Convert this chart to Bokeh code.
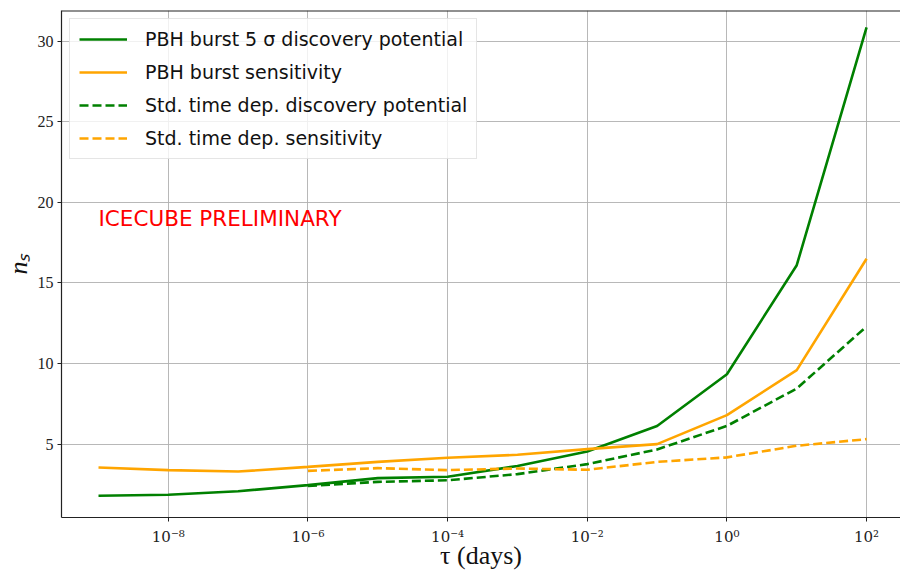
from bokeh.plotting import figure
from bokeh.models import (Range1d, FixedTicker, CustomJSTickFormatter, Label, Legend,
                          LegendItem, Span)
from bokeh.embed import file_html
from bokeh.resources import INLINE

# ---- data ----
tau_full = [1e-9, 1e-8, 1e-7, 1e-6, 1e-5, 1e-4, 1e-3, 1e-2, 1e-1, 1e0, 1e1, 1e2]
pbh_disc = [1.80, 1.86, 2.08, 2.46, 2.89, 2.98, 3.65, 4.54, 6.13, 9.34, 16.1, 30.85]
pbh_sens = [3.55, 3.39, 3.30, 3.59, 3.90, 4.16, 4.34, 4.69, 5.00, 6.80, 9.59, 16.5]

tau_std = [1e-6, 1e-5, 1e-4, 1e-3, 1e-2, 1e-1, 1e0, 1e1, 1e2]
std_disc = [2.41, 2.66, 2.76, 3.14, 3.76, 4.67, 6.13, 8.45, 12.3]
std_sens = [3.34, 3.51, 3.39, 3.49, 3.41, 3.90, 4.18, 4.90, 5.31]

x_ticks = [1e-8, 1e-6, 1e-4, 1e-2, 1e0, 1e2]
x_tick_labels = ["10⁻⁸", "10⁻⁶", "10⁻⁴", "10⁻²", "10⁰", "10²"]
y_ticks = [5, 10, 15, 20, 25, 30]

series_names = ["PBH burst 5 σ discovery potential", "PBH burst sensitivity",
                "Std. time dep. discovery potential", "Std. time dep. sensitivity"]

GREEN = "#008000"
ORANGE = "#ffa500"
SERIF = "Liberation Serif"
SANS = "DejaVu Sans"

p = figure(width=900, height=578, x_axis_type="log",
           x_range=Range1d(10 ** -9.53, 10 ** 2.486), y_range=Range1d(0.45, 31.9),
           output_backend="svg", toolbar_location=None,
           min_border_left=60, min_border_top=10, min_border_bottom=61, min_border_right=0)

p.outline_line_color = None
p.background_fill_color = "white"
p.border_fill_color = "white"

# grid
for g in (p.xgrid, p.ygrid):
    g.grid_line_color = "#b0b0b0"
    g.grid_line_width = 0.9
p.xgrid.ticker = FixedTicker(ticks=x_ticks, minor_ticks=[])
p.ygrid.ticker = FixedTicker(ticks=y_ticks, minor_ticks=[])

# axes
p.xaxis.ticker = FixedTicker(ticks=x_ticks, minor_ticks=[])
p.xaxis.formatter = CustomJSTickFormatter(args=dict(tk=x_ticks, lb=x_tick_labels), code="""
let best = 0, bd = 1e9;
for (let i = 0; i < tk.length; i++) {
  const d = Math.abs(Math.log10(tk[i]) - Math.log10(tick));
  if (d < bd) { bd = d; best = i; }
}
return lb[best];
""")
p.yaxis.ticker = FixedTicker(ticks=y_ticks, minor_ticks=[])

for ax in (p.xaxis[0], p.yaxis[0]):
    ax.axis_line_color = "#222222"
    ax.axis_line_width = 1.2
    ax.major_tick_line_color = "#222222"
    ax.major_tick_out = 4
    ax.major_tick_in = 0
    ax.minor_tick_line_color = None
    ax.major_label_text_font = SERIF
    ax.major_label_text_font_size = "16px"
    ax.major_label_text_color = "#222222"
    ax.axis_label_text_font = SERIF
    ax.axis_label_text_font_style = "normal"
    ax.axis_label_text_font_size = "26px"
    ax.axis_label_text_color = "#111111"
    ax.major_label_standoff = 4

p.xaxis.major_label_text_font = "DejaVu Serif"
p.xaxis.major_label_text_font_size = "15px"
p.xaxis.major_label_standoff = 6
p.xaxis.axis_label = "τ (days)"
p.yaxis.axis_label = "nₛ"
p.yaxis.axis_label_text_font_style = "italic"
p.xaxis.axis_label_standoff = -8
p.yaxis.axis_label_standoff = 2

# top spine
p.add_layout(Span(location=31.9, dimension="width", line_color="#222222", line_width=2))

# lines
r1 = p.line(tau_full, pbh_disc, line_color=GREEN, line_width=2.6)
r2 = p.line(tau_full, pbh_sens, line_color=ORANGE, line_width=2.6)
r3 = p.line(tau_std, std_disc, line_color=GREEN, line_width=2.6, line_dash="9 4")
r4 = p.line(tau_std, std_sens, line_color=ORANGE, line_width=2.6, line_dash="9 4")

legend = Legend(items=[LegendItem(label=n, renderers=[r]) for n, r in
                       zip(series_names, [r1, r2, r3, r4])],
                location="top_left")
legend.margin = 8
legend.padding = 9
legend.spacing = 11
legend.glyph_width = 48
legend.glyph_height = 22
legend.label_height = 22
legend.label_standoff = 18
legend.label_text_font = SANS
legend.label_text_font_size = "19px"
legend.label_text_color = "#111111"
legend.border_line_color = "#cccccc"
legend.border_line_width = 1
legend.background_fill_alpha = 0.8
p.add_layout(legend)

p.add_layout(Label(x=1e-9, y=19.0, text="ICECUBE PRELIMINARY", text_color="red",
                   text_font=SANS, text_font_size="21.5px", text_baseline="middle",
                   text_align="left"))

open("out.html", "w").write(file_html(p, INLINE))
